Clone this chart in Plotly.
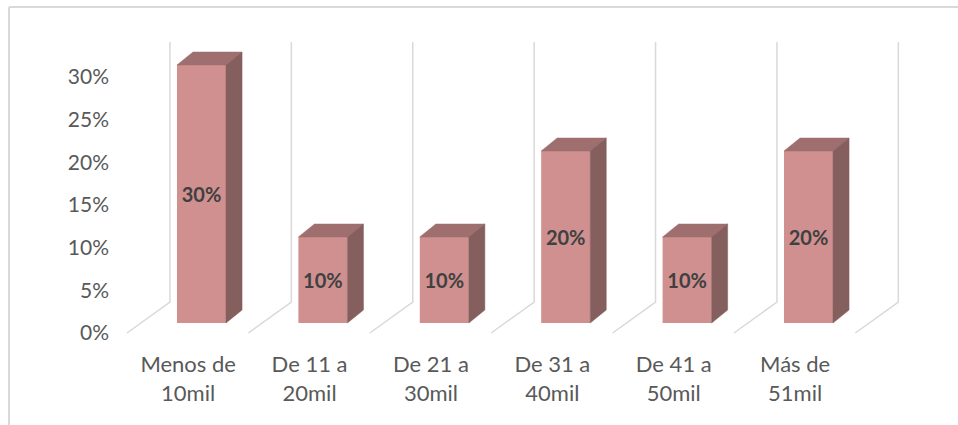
import plotly.graph_objects as go

# ---- data ----
categories = ["Menos de<br>10mil", "De 11 a<br>20mil", "De 21 a<br>30mil",
              "De 31 a<br>40mil", "De 41 a<br>50mil", "Más de<br>51mil"]
values = [30, 10, 10, 20, 10, 20]          # percent
y_ticks = [0, 5, 10, 15, 20, 25, 30]
y_tick_labels = ["0%", "5%", "10%", "15%", "20%", "25%", "30%"]

# ---- styling / geometry ----
FRONT = "#d09090"
TOP = "#9e6f6e"
SIDE = "#845f5d"
GRID = "#d9d9d9"
BAR_W = 0.404          # front face width (category units)
BAR_DX, BAR_DY = 0.132, 1.51     # bar depth offset
FLOOR_FRONT_X, FLOOR_FRONT_Y = -0.614, -1.163
FLOOR_DX, FLOOR_DY = 0.354, 3.605
WALL_TOP = 32.67
LABEL_SHIFT = -0.11

n = len(categories)
idx = list(range(n))

fig = go.Figure()

# back wall verticals and floor diagonals at category boundaries
for k in range(n + 1):
    xf = FLOOR_FRONT_X + k
    xb = xf + FLOOR_DX
    yb = FLOOR_FRONT_Y + FLOOR_DY
    fig.add_trace(go.Scatter(x=[xf, xb, xb], y=[FLOOR_FRONT_Y, yb, WALL_TOP],
                             mode="lines", line=dict(color=GRID, width=1.5),
                             hoverinfo="skip", showlegend=False))

# front faces
fig.add_trace(go.Bar(x=idx, y=values, width=BAR_W, marker=dict(color=FRONT, line=dict(width=0)),
                     text=[f"{v}%" for v in values], textposition="inside",
                     insidetextanchor="middle", textangle=0,
                     textfont=dict(family="Lato", size=20, color="#404040", weight="bold"),
                     showlegend=False, hoverinfo="skip"))

# top and side faces
for i, v in zip(idx, values):
    l, r = i - BAR_W / 2, i + BAR_W / 2
    fig.add_trace(go.Scatter(x=[l, r, r + BAR_DX, l + BAR_DX, l],
                             y=[v, v, v + BAR_DY, v + BAR_DY, v],
                             fill="toself", fillcolor=TOP, mode="lines",
                             line=dict(color=TOP, width=0.5),
                             hoverinfo="skip", showlegend=False))
    fig.add_trace(go.Scatter(x=[r, r, r + BAR_DX, r + BAR_DX, r],
                             y=[0, v, v + BAR_DY, BAR_DY, 0],
                             fill="toself", fillcolor=SIDE, mode="lines",
                             line=dict(color=SIDE, width=0.5),
                             hoverinfo="skip", showlegend=False))

# invisible trace for tick-label axis
fig.add_trace(go.Scatter(x=[0], y=[0], yaxis="y2", mode="markers",
                         marker=dict(opacity=0), hoverinfo="skip", showlegend=False))

W, H = 958, 425
ML, MR, MT, MB = 113, 30, 5, 80
plot_w = W - ML - MR
px_per_x = 121.4
x0 = -(201.5 - ML) / px_per_x
x1 = x0 + plot_w / px_per_x
B = H - MB
px_per_y = 8.6
y0 = -(B - 323) / px_per_y
y1 = (323 - MT) / px_per_y
px_per_y2 = 8.53
y20 = -(B - 333) / px_per_y2
y21 = (333 - MT) / px_per_y2

fig.update_layout(
    width=W, height=H,
    margin=dict(l=ML, r=MR, t=MT, b=MB),
    paper_bgcolor="white", plot_bgcolor="white",
    barmode="overlay",
    font=dict(family="Lato", color="#595959", size=21),
    xaxis=dict(range=[x0, x1], tickvals=[i + LABEL_SHIFT for i in idx], ticktext=categories,
               showgrid=False, zeroline=False, showline=False, ticks="",
               ticklabelstandoff=4,
               tickfont=dict(size=22, color="#595959")),
    yaxis=dict(range=[y0, y1], showgrid=False, zeroline=False, showline=False,
               showticklabels=False, ticks=""),
    yaxis2=dict(range=[y20, y21], overlaying="y", side="left", tickvals=y_ticks,
                ticktext=y_tick_labels, showgrid=False, zeroline=False, showline=False,
                ticks="", ticklabelstandoff=3,
                tickfont=dict(size=21, color="#595959")),
    shapes=[
        dict(type="line", xref="paper", yref="paper",
             x0=(9 - ML) / plot_w, x1=(9 - ML) / plot_w,
             y0=(H - 7 - MB) / (H - MT - MB), y1=(0 - MB) / (H - MT - MB),
             line=dict(color=GRID, width=2)),
        dict(type="line", xref="paper", yref="paper",
             x0=(9 - ML) / plot_w, x1=(W - ML) / plot_w,
             y0=(H - 7 - MB) / (H - MT - MB), y1=(H - 7 - MB) / (H - MT - MB),
             line=dict(color=GRID, width=2)),
    ],
)

fig.write_html("out.html")
